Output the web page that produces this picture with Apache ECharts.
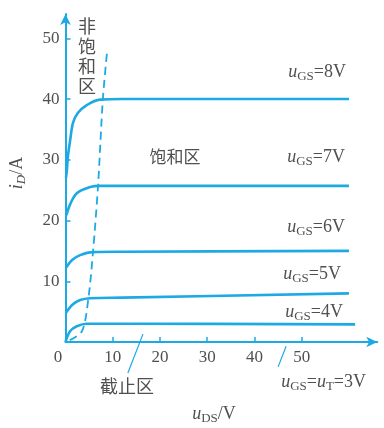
<!DOCTYPE html>
<html>
<head>
<meta charset="utf-8">
<script src="https://cdn.jsdelivr.net/npm/echarts@6/dist/echarts.min.js"></script>
<style>
  html, body { margin: 0; padding: 0; background: #fff; }
  #chart { width: 384px; height: 428px; }
</style>
</head>
<body>
<div id="chart"></div>
<script>
// Output characteristics of a power MOSFET: i_D versus u_DS for several u_GS
const xTicks = [10, 20, 30, 40, 50];
const xLabels = [0, 10, 20, 30, 40, 50];
const yTicks = [10, 20, 30, 40, 50];

// [u_DS (V), i_D (A)] for each gate voltage
const curveGS8 = [[0.1, 27], [0.3, 28.3], [0.5, 30.5], [1, 33.3], [1.6, 36.1], [2.6, 37.7], [4.5, 39], [7.3, 39.9], [12, 40], [60, 40]];
const curveGS7 = [[0.2, 20.9], [1, 22.7], [2.4, 24.5], [5.2, 25.5], [7.3, 25.7], [12, 25.7], [60, 25.7]];
const curveGS6 = [[0.1, 12.2], [1.4, 13.5], [3.1, 14.3], [5.8, 14.8], [12, 14.85], [60, 15]];
const curveGS5 = [[0.1, 4.8], [1.4, 6.1], [3.1, 6.9], [5.2, 7.2], [12, 7.3], [60, 8]];
const curveGS4 = [[0, 0], [1, 1.8], [2.4, 2.6], [4.5, 3.0], [12, 3.0], [61.3, 2.9]];

// boundary between the non-saturation and saturation regions
const boundary = [[0.9, 0.3], [3.5, 1.8], [4.8, 6.9], [5.8, 14.6], [6.9, 25.9], [7.9, 39.9], [8.8, 47.8]];

// leader lines for the cut-off region and the threshold curve
const cutoffLeader = [[13.2, -5.1], [16.4, 1.3]];
const thresholdLeader = [[45, -4.1], [46.7, -0.7]];

const BLUE = '#1da9e4';
const TEXT = '#505050';
const SERIF = '"Liberation Serif", "DejaVu Serif", serif';
const CJK = '"Noto Sans CJK SC", sans-serif';

const chart = echarts.init(document.getElementById('chart'));

function curve(data) {
  return {
    type: 'line', data, smooth: 0.35, showSymbol: false, symbol: 'none',
    lineStyle: { color: BLUE, width: 2.6 }, z: 3
  };
}
function leader(data) {
  return {
    type: 'line', data, showSymbol: false, symbol: 'none', clip: false,
    lineStyle: { color: BLUE, width: 1.2 }, z: 3
  };
}

const gsRich = {
  i: { fontFamily: SERIF, fontStyle: 'italic', fontSize: 18, color: TEXT },
  s: { fontFamily: SERIF, fontSize: 13, color: TEXT, padding: [9, 0, 0, 0] },
  n: { fontFamily: SERIF, fontSize: 18, color: TEXT }
};
function gsLabel(text, x, y) {
  return {
    type: 'text', x, y, z: 10,
    style: { text, rich: gsRich, align: 'right', verticalAlign: 'middle', fill: TEXT }
  };
}

chart.setOption({
  backgroundColor: '#fff',
  animation: false,
  grid: { left: 65.5, right: 6.7, top: 14, bottom: 86, containLabel: false },
  xAxis: {
    type: 'value', min: 0, max: 66,
    axisLine: { lineStyle: { color: BLUE, width: 2 }, symbol: ['none', 'arrow'], symbolSize: [8, 11] },
    axisTick: { inside: true, length: 5, customValues: xTicks, lineStyle: { color: BLUE, width: 1.5 } },
    axisLabel: {
      customValues: xLabels, margin: 7, color: TEXT, fontFamily: SERIF, fontSize: 17,
      formatter: v => v === 0 ? '{z|0}' : String(v),
      rich: { z: { fontFamily: SERIF, fontSize: 17, color: TEXT, padding: [0, 15, 0, 0] } }
    },
    splitLine: { show: false }
  },
  yAxis: {
    type: 'value', min: 0, max: 54,
    axisLine: { lineStyle: { color: BLUE, width: 2 }, symbol: ['none', 'arrow'], symbolSize: [8, 11] },
    axisTick: { inside: true, length: 5, customValues: yTicks, lineStyle: { color: BLUE, width: 1.5 } },
    axisLabel: { customValues: yTicks, margin: 6, color: TEXT, fontFamily: SERIF, fontSize: 17 },
    splitLine: { show: false }
  },
  series: [
    curve(curveGS8), curve(curveGS7), curve(curveGS6), curve(curveGS5), curve(curveGS4),
    {
      type: 'line', data: boundary, smooth: 0.3, showSymbol: false, symbol: 'none',
      lineStyle: { color: BLUE, width: 1.8, type: [8, 5] }, z: 2
    },
    leader(cutoffLeader), leader(thresholdLeader)
  ],
  graphic: [
    gsLabel('{i|u}{s|GS}{n|=8V}', 346, 72),
    gsLabel('{i|u}{s|GS}{n|=7V}', 345, 157),
    gsLabel('{i|u}{s|GS}{n|=6V}', 345, 227),
    gsLabel('{i|u}{s|GS}{n|=5V}', 341, 274),
    gsLabel('{i|u}{s|GS}{n|=4V}', 343, 312),
    gsLabel('{i|u}{s|GS}{n|=}{i|u}{s|T}{n|=3V}', 366, 382),
    {
      type: 'text', x: 214, y: 414, z: 10,
      style: {
        text: '{i|u}{s|DS}{n|/V}', rich: gsRich, align: 'center', verticalAlign: 'middle', fill: TEXT
      }
    },
    {
      type: 'text', x: 17, y: 173, rotation: Math.PI / 2, z: 10,
      style: {
        text: '{i|i}{s|D}{n|/A}', align: 'center', verticalAlign: 'middle', fill: TEXT,
        rich: {
          i: { fontFamily: SERIF, fontStyle: 'italic', fontSize: 18, color: TEXT },
          s: { fontFamily: SERIF, fontStyle: 'italic', fontSize: 13, color: TEXT, padding: [9, 0, 0, 0] },
          n: { fontFamily: SERIF, fontSize: 18, color: TEXT }
        }
      }
    },
    {
      type: 'text', x: 175, y: 157, z: 10,
      style: { text: '饱和区', font: '17px ' + CJK, fill: TEXT, align: 'center', verticalAlign: 'middle' }
    },
    {
      type: 'text', x: 87, y: 56, z: 10,
      style: { text: '非\n饱\n和\n区', font: '18px ' + CJK, lineHeight: 20, fill: TEXT, align: 'center', verticalAlign: 'middle' }
    },
    {
      type: 'text', x: 127, y: 386, z: 10,
      style: { text: '截止区', font: '18px ' + CJK, fill: TEXT, align: 'center', verticalAlign: 'middle' }
    }
  ]
});
</script>
</body>
</html>
